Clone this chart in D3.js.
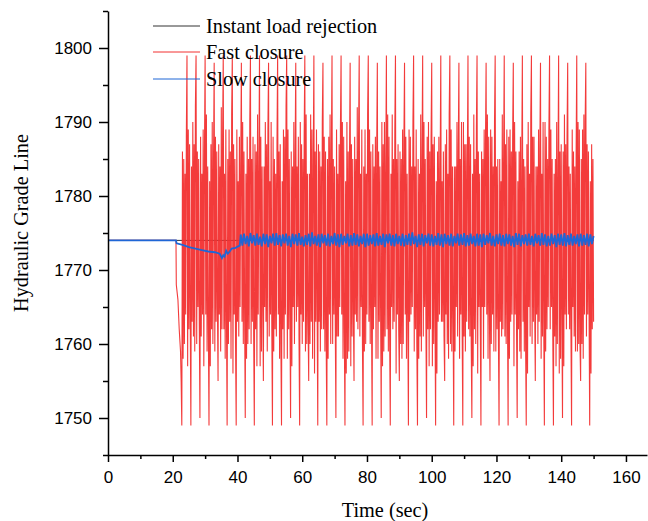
<!DOCTYPE html>
<html>
<head>
<meta charset="utf-8">
<script src="https://cdn.jsdelivr.net/npm/d3@7"></script>
<style>
  body { margin: 0; background: #fff; }
  .tick text { font-family: "Liberation Sans", Arial, sans-serif; font-size: 17px; }
  .title { font-family: "Liberation Serif", "Times New Roman", serif; font-size: 20.3px; }
</style>
</head>
<body>
<div class="chart"></div>
<script>
// tick labels
var xTicks = [0, 20, 40, 60, 80, 100, 120, 140, 160];
var yTicks = [1750, 1760, 1770, 1780, 1790, 1800];

// instant load rejection (mostly hidden under the other two)
var instantT = [0, 150];
var instantV = [1774, 1774];

// fast closure: lead-in, then samples every 0.2 s from 22.8 s
var fastLeadT = [0, 21.0, 21.1, 21.6, 22.0, 22.4, 22.6];
var fastLeadV = [1774, 1774, 1768, 1766, 1762, 1759, 1755];
var fastStart = 22.8, fastStep = 0.2;
var fastV = [
  1749,1786,1758,1785,1760,1783,1764,1788,1799,1757,1789,1762,1787,1764,
  1749,1784,1763,1790,1761,1787,1759,1792,1799,1760,1786,1765,1785,1763,
  1750,1788,1761,1783,1764,1789,1757,1786,1799,1764,1791,1759,1784,1762,
  1749,1782,1757,1787,1762,1790,1760,1785,1798,1759,1788,1763,1786,1765,
  1755,1787,1764,1784,1759,1792,1762,1788,1799,1762,1783,1758,1789,1763,
  1749,1785,1760,1789,1763,1786,1758,1791,1799,1756,1787,1764,1785,1760,
  1749,1789,1763,1782,1761,1788,1765,1784,1798,1763,1790,1760,1786,1764,
  1750,1783,1758,1788,1760,1785,1762,1790,1799,1760,1785,1763,1788,1761,
  1749,1787,1762,1786,1757,1791,1764,1783,1799,1757,1788,1759,1784,1765,
  1755,1784,1765,1790,1763,1787,1759,1789,1798,1761,1782,1764,1790,1762,
  1749,1788,1759,1785,1762,1783,1761,1787,1799,1764,1786,1758,1787,1760,
  1749,1782,1762,1789,1758,1788,1764,1792,1799,1758,1789,1762,1785,1764,
  1750,1786,1757,1784,1765,1790,1760,1785,1798,1763,1784,1765,1788,1761,
  1749,1790,1764,1787,1760,1785,1763,1788,1799,1759,1791,1760,1783,1763,
  1755,1783,1760,1791,1763,1789,1758,1784,1799,1756,1786,1763,1789,1765,
  1749,1787,1763,1786,1759,1784,1762,1790,1798,1762,1788,1759,1786,1760,
  1749,1785,1758,1788,1764,1791,1760,1786,1799,1760,1785,1764,1784,1763,
  1750,1789,1761,1783,1761,1787,1765,1789,1799,1764,1790,1758,1788,1762,
  1749,1782,1756,1790,1758,1786,1759,1785,1798,1757,1787,1761,1785,1764,
  1755,1788,1764,1785,1763,1792,1762,1788,1799,1761,1783,1765,1789,1760,
  1749,1784,1759,1789,1760,1783,1764,1791,1799,1763,1789,1760,1786,1763,
  1749,1787,1762,1784,1765,1788,1758,1786,1798,1758,1786,1763,1784,1765,
  1750,1790,1757,1787,1759,1790,1761,1784,1799,1762,1791,1759,1788,1761,
  1749,1783,1765,1791,1762,1785,1763,1789,1799,1756,1785,1764,1787,1762,
  1755,1786,1760,1785,1758,1789,1760,1787,1798,1764,1788,1758,1783,1764,
  1749,1789,1763,1788,1764,1784,1765,1790,1799,1759,1784,1762,1789,1760,
  1749,1785,1758,1783,1761,1791,1759,1785,1799,1761,1790,1765,1785,1763,
  1750,1788,1762,1790,1757,1786,1762,1788,1798,1757,1787,1760,1788,1765,
  1749,1782,1756,1786,1763,1788,1764,1783,1799,1763,1782,1763,1786,1761,
  1755,1787,1764,1789,1760,1783,1758,1791,1799,1760,1789,1759,1784,1764,
  1749,1784,1759,1784,1765,1790,1761,1786,1798,1758,1785,1764,1790,1762,
  1749,1790,1761,1787,1759,1787,1763,1784,1799,1762,1788,1761,1787,1760,
  1750,1783,1757,1791,1762,1785,1760,1789,1799,1756,1786,1765,1783,1763,
  1749,1786,1765,1785,1758,1789,1765,1787,1798,1764,1791,1758,1788,1765,
  1755,1789,1760,1788,1764,1784,1759,1790,1799,1759,1784,1762,1785,1761,
  1749,1785,1763,1782,1761,1791,1762,1785,1799,1761,1787,1760,1789,1764,
  1749,1788,1758,1789,1763,1786,1764,1788,1798,1757,1790,1764,1786,1762,
  1750,1782,1762,1786,1759,1788,1758,1784,1799,1763,1785,1759,1784,1760,
  1749,1787,1756,1790,1765,1783,1761,1791,1799,1760,1788,1763,1788,1765,
  1755,1784,1764,1784,1760,1789,1763,1786,1798,1758,1783,1761,1790,1763,
  1749,1790,1759,1788,1762,1785,1765,1789,1799,1762,1789,1765,1785,1761,
  1749,1783,1761,1785,1757,1790,1760,1783,1799,1756,1786,1758,1787,1764,
  1750,1786,1757,1791,1764,1787,1762,1788,1798,1764,1784,1762,1783,1762,
  1749,1789,1765,1786,1761,1784,1759,1785,1799,1759,1790,1760,1789,1760,
  1755,1785,1760,1789,1758,1791,1764,1790,1798,1761,1787,1764,1786,1765,
  1749,1782,1756,1787,1762,1785,1763
];

// slow closure: lead-in, then samples every 0.5 s from 41 s
var slowLeadT = [0, 21.0, 21.2, 23, 25, 27, 29, 31, 33, 34.5, 35.2, 35.6, 36.0, 36.5, 37.0, 37.6, 38.2, 39.4, 40.2, 40.7];
var slowLeadV = [1774, 1774, 1773.6, 1773.4, 1773.1, 1772.9, 1772.7, 1772.5, 1772.4, 1772.2, 1771.6, 1772.0, 1771.8, 1772.6, 1772.2, 1772.5, 1772.9, 1773.0, 1773.2, 1773.3];
var slowStart = 41, slowStep = 0.5;
var slowV = [
  1774.8,1773.3,1774.9,1773.5,1774.6,1773.2,1775.0,1773.6,1774.7,1773.3,1774.9,1773.4,1774.5,1773.2,1774.9,1773.5,1774.8,1773.1,1774.6,1773.6,
  1774.9,1773.3,1775.0,1773.4,1774.7,1773.2,1774.8,1773.6,1774.9,1773.3,1774.6,1773.1,1774.9,1773.5,1774.8,1773.3,1775.0,1773.4,1774.5,1773.2,
  1774.7,1773.4,1774.9,1773.2,1775.1,1773.5,1774.6,1773.3,1774.8,1773.1,1774.9,1773.6,1774.7,1773.3,1774.9,1773.2,1774.6,1773.5,1775.0,1773.3,
  1774.8,1773.1,1774.9,1773.4,1774.6,1773.6,1774.9,1773.2,1774.7,1773.3,1775.0,1773.4,1774.8,1773.2,1774.6,1773.5,1774.9,1773.1,1774.9,1773.3,
  1774.7,1773.5,1774.8,1773.2,1775.0,1773.3,1774.6,1773.4,1774.9,1773.1,1774.8,1773.6,1774.9,1773.3,1774.7,1773.2,1774.9,1773.5,1774.6,1773.3,
  1774.9,1773.2,1774.7,1773.4,1774.9,1773.3,1775.1,1773.5,1774.6,1773.1,1774.8,1773.4,1774.9,1773.2,1774.7,1773.6,1774.9,1773.3,1774.8,1773.2,
  1774.6,1773.4,1775.0,1773.3,1774.8,1773.1,1774.9,1773.5,1774.7,1773.3,1774.9,1773.2,1774.6,1773.6,1774.9,1773.3,1774.8,1773.4,1775.0,1773.2,
  1774.7,1773.3,1774.9,1773.5,1774.6,1773.2,1774.9,1773.3,1774.8,1773.1,1774.9,1773.4,1774.7,1773.6,1775.0,1773.3,1774.6,1773.2,1774.8,1773.5,
  1774.9,1773.3,1774.7,1773.2,1774.9,1773.5,1774.8,1773.3,1774.6,1773.1,1775.0,1773.4,1774.9,1773.2,1774.7,1773.5,1774.8,1773.3,1774.9,1773.4,
  1774.6,1773.2,1774.9,1773.6,1774.7,1773.3,1775.0,1773.4,1774.8,1773.2,1774.6,1773.3,1774.9,1773.5,1774.7,1773.1,1774.9,1773.4,1774.8,1773.3,
  1775.0,1773.2,1774.7,1773.4,1774.9,1773.3,1774.6,1773.5,1774.8,1773.2,1774.9,1773.3,1774.7,1773.4,1774.9,1773.2,1774.8,1773.5,1774.6
];

var seriesNames = ["Instant load rejection", "Fast closure", "Slow closure"];
var seriesColors = ["#333333", "#f23030", "#1f66d6"];

var W = 648, H = 521;
var svg = d3.select(".chart").append("svg")
  .attr("width", W)
  .attr("height", H)
  .style("font-family", "Liberation Sans, Arial, sans-serif");

var x = d3.scaleLinear().domain([0, 166.5]).range([108, 647]);
var y = d3.scaleLinear().domain([1745, 1805]).range([455, 11]);

function pts(leadT, leadV, start, step, vals) {
  var out = leadT.map(function(t, i){ return [t, leadV[i]] });
  (vals || []).forEach(function(v, i){ out.push([start + i * step, v]) });
  return out;
}

var line = d3.line()
  .x(function(d){ return x(d[0]) })
  .y(function(d){ return y(d[1]) });

var plot = svg.append("g");

plot.append("path")
  .datum(pts(instantT, instantV))
  .attr("fill", "none")
  .attr("stroke", seriesColors[0])
  .attr("stroke-width", 1)
  .attr("d", line);

plot.append("path")
  .datum(pts(fastLeadT, fastLeadV, fastStart, fastStep, fastV))
  .attr("fill", "none")
  .attr("stroke", seriesColors[1])
  .attr("stroke-opacity", 0.95)
  .attr("stroke-width", 1.1)
  .attr("d", line);

plot.append("path")
  .datum(pts(slowLeadT, slowLeadV, slowStart, slowStep, slowV))
  .attr("fill", "none")
  .attr("stroke", seriesColors[2])
  .attr("stroke-width", 1.8)
  .attr("d", line);

// axes: minor ticks first, then major with labels
svg.append("g")
  .attr("transform", "translate(0,455)")
  .call(d3.axisBottom(x).tickValues(d3.range(10, 170, 20)).tickSize(4).tickFormat(""))
  .call(function(g){ g.select(".domain").remove() })
  .selectAll("line").attr("stroke-width", 1.5);

svg.append("g")
  .attr("transform", "translate(108,0)")
  .call(d3.axisLeft(y).tickValues(d3.range(1745, 1806, 10)).tickSize(5).tickFormat(""))
  .call(function(g){ g.select(".domain").remove() })
  .selectAll("line").attr("stroke-width", 1.5);

var xAxis = svg.append("g")
  .attr("transform", "translate(0,455)")
  .call(d3.axisBottom(x).tickValues(xTicks).tickSize(7).tickPadding(9).tickSizeOuter(0).tickFormat(d3.format("d")));
xAxis.select(".domain").attr("stroke-width", 1.5);
xAxis.selectAll("line").attr("stroke-width", 1.5);
xAxis.selectAll("text").attr("fill", "#000");

var yAxis = svg.append("g")
  .attr("transform", "translate(108,0)")
  .call(d3.axisLeft(y).tickValues(yTicks).tickSize(9).tickPadding(7).tickSizeOuter(0).tickFormat(d3.format("d")));
yAxis.select(".domain").attr("stroke-width", 1.5);
yAxis.selectAll("line").attr("stroke-width", 1.5);
yAxis.selectAll("text").attr("fill", "#000");

// titles
svg.append("text")
  .attr("class", "title")
  .attr("x", 385)
  .attr("y", 517)
  .attr("text-anchor", "middle")
  .text("Time (sec)");

svg.append("text")
  .attr("class", "title")
  .attr("transform", "translate(28,223) rotate(-90)")
  .attr("text-anchor", "middle")
  .text("Hydraulic Grade Line");

// legend
var legend = svg.append("g").selectAll("g")
  .data(seriesNames)
  .enter()
  .append("g")
  .attr("transform", function(d, i){ return "translate(153," + [26, 52, 79][i] + ")" });

legend.append("line")
  .attr("x1", 0).attr("x2", 47)
  .attr("stroke", function(d, i){ return seriesColors[i] })
  .attr("stroke-width", 1);

legend.append("text")
  .attr("class", "title")
  .attr("x", 53)
  .attr("y", 6.5)
  .text(function(d){ return d });
</script>
</body>
</html>
